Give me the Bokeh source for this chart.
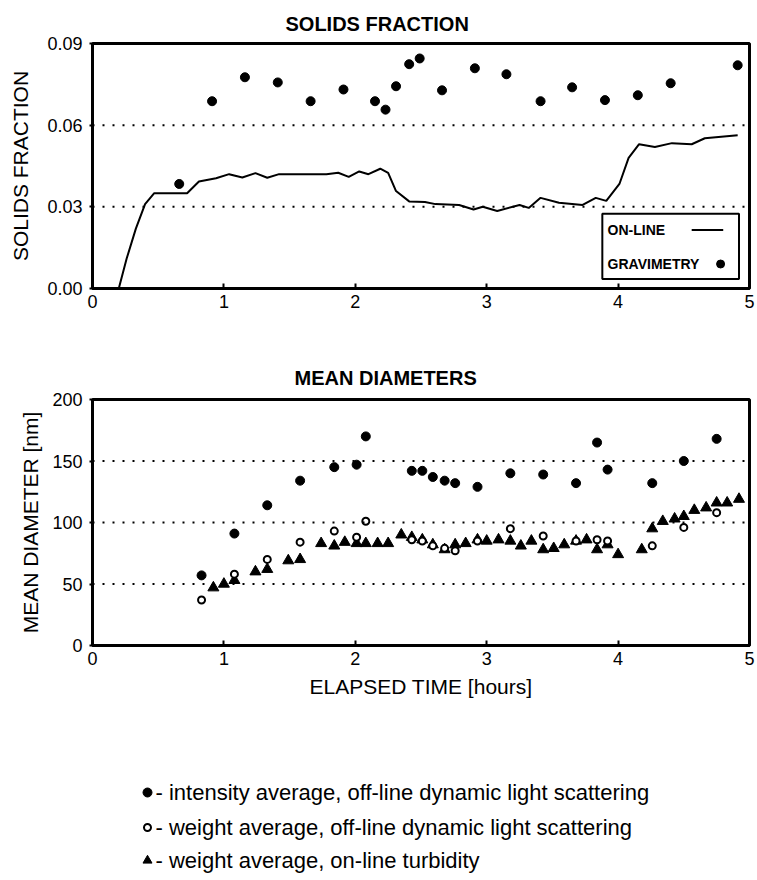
from bokeh.plotting import figure
from bokeh.layouts import column
from bokeh.models import (Range1d, FixedTicker, Span, Title,
                          NumeralTickFormatter)
from bokeh.core.properties import value
from bokeh.embed import file_html
from bokeh.resources import INLINE

FONT = "Liberation Sans"

# ---------------- data: SOLIDS FRACTION ----------------
online_t = [0.00, 0.20, 0.26, 0.33, 0.40, 0.47, 0.72, 0.81, 0.94, 1.04,
            1.14, 1.24, 1.33, 1.42, 1.60, 1.78, 1.87, 1.95, 2.03, 2.10,
            2.19, 2.25, 2.31, 2.41, 2.53, 2.61, 2.79, 2.90, 2.97, 3.08,
            3.25, 3.32, 3.41, 3.55, 3.73, 3.83, 3.91, 4.01, 4.08, 4.16,
            4.28, 4.41, 4.56, 4.66, 4.91]
online_v = [0.000, 0.000, 0.011, 0.022, 0.031, 0.035, 0.035, 0.0393, 0.0405, 0.042,
            0.0408, 0.0424, 0.0407, 0.042, 0.042, 0.042, 0.0425, 0.041, 0.043, 0.042,
            0.044, 0.0425, 0.0358, 0.032, 0.0318, 0.031, 0.0307, 0.029, 0.030, 0.0285,
            0.0307, 0.0296, 0.0333, 0.0315, 0.0307, 0.0333, 0.0322, 0.0384, 0.048, 0.053,
            0.052, 0.0534, 0.053, 0.0552, 0.0563]

grav_t = [0.66, 0.91, 1.16, 1.41, 1.66, 1.91, 2.15, 2.23, 2.31, 2.41,
          2.49, 2.66, 2.91, 3.15, 3.41, 3.65, 3.90, 4.15, 4.40, 4.91]
grav_v = [0.0384, 0.0688, 0.0776, 0.0757, 0.0688, 0.0731, 0.0688, 0.0657, 0.0743, 0.0824,
          0.0845, 0.0728, 0.0809, 0.0787, 0.0688, 0.0739, 0.0692, 0.0710, 0.0754, 0.0820]

top_yticks = [0.00, 0.03, 0.06, 0.09]
top_grid = [0.03, 0.06]
top_legend_labels = ["ON-LINE", "GRAVIMETRY"]

# ---------------- data: MEAN DIAMETERS ----------------
dls_t = [0.83, 1.08, 1.33, 1.58, 1.84, 2.01, 2.08, 2.43, 2.51, 2.59, 2.68,
         2.76, 2.93, 3.18, 3.43, 3.68, 3.84, 3.92, 4.26, 4.50, 4.75]
int_avg = [57, 91, 114, 134, 145, 147, 170, 142, 142, 137, 134,
           132, 129, 140, 139, 132, 165, 143, 132, 150, 168]
wt_avg = [37, 58, 70, 84, 93, 88, 101, 86, 85, 81, 79,
          77, 85, 95, 89, 85, 86, 85, 81, 96, 108]

turb_t = [0.92, 1.00, 1.08, 1.24, 1.33, 1.49, 1.58, 1.74, 1.84, 1.92,
          2.01, 2.08, 2.17, 2.25, 2.35, 2.43, 2.51, 2.59, 2.68, 2.76,
          2.84, 2.93, 3.00, 3.09, 3.18, 3.26, 3.34, 3.43, 3.51, 3.59,
          3.68, 3.76, 3.84, 3.92, 4.00, 4.18, 4.26, 4.34, 4.43, 4.50,
          4.58, 4.67, 4.75, 4.83, 4.92]
turb_v = [47, 50, 53, 60, 62, 69, 70, 83, 81, 84,
          83, 83, 83, 83, 90, 88, 86, 82, 78, 82,
          83, 86, 85, 86, 85, 81, 85, 78, 79, 82,
          85, 86, 78, 82, 74, 78, 95, 101, 103, 105,
          110, 112, 116, 116, 119]

bot_yticks = [0, 50, 100, 150, 200]
bot_grid = [50, 100, 150]
x_ticks = [0, 1, 2, 3, 4, 5]

legend_labels = ["- intensity average, off-line dynamic light scattering",
                 "- weight average, off-line dynamic light scattering",
                 "- weight average, on-line turbidity"]

BL, BR = 92, 8  # frame borders (all plots in the column share them)


def style(p, ylabel, xlabel=None):
    p.outline_line_color = "black"
    p.outline_line_width = 3
    p.xgrid.visible = False
    p.ygrid.visible = False
    p.background_fill_color = "white"
    p.border_fill_color = "white"
    for ax in (p.xaxis[0], p.yaxis[0]):
        ax.axis_line_color = "black"
        ax.axis_line_width = 3
        ax.major_tick_line_color = "black"
        ax.major_tick_line_width = 2
        ax.minor_tick_line_color = None
        ax.major_label_text_font = FONT
        ax.major_label_text_font_size = "18px"
        ax.major_label_text_color = "black"
        ax.axis_label_text_font = FONT
        ax.axis_label_text_font_size = "21px"
        ax.axis_label_text_font_style = "normal"
        ax.axis_label_text_color = "black"
    p.xaxis.ticker = FixedTicker(ticks=x_ticks)
    p.xaxis.major_tick_in = 5
    p.xaxis.major_tick_out = 0
    p.xaxis.major_label_standoff = 6
    p.yaxis.major_tick_in = 0
    p.yaxis.major_tick_out = 3
    p.yaxis.major_label_standoff = 7
    p.yaxis.axis_label = ylabel
    if xlabel:
        p.xaxis.axis_label = xlabel
        p.xaxis.axis_label_standoff = 7


def add_title(p, text, offset, standoff, valign):
    p.add_layout(Title(text=text, align="left", offset=offset,
                       vertical_align=valign, standoff=standoff,
                       text_font=FONT, text_font_size="20px",
                       text_font_style="bold", text_color="black"), "above")


# ---------------- top figure ----------------
p1 = figure(width=757, height=315, output_backend="svg", toolbar_location=None,
            x_range=Range1d(0, 5), y_range=Range1d(0, 0.09),
            min_border_left=BL, min_border_right=BR, min_border_top=43,
            min_border_bottom=27)
style(p1, "SOLIDS FRACTION")
p1.yaxis.ticker = FixedTicker(ticks=top_yticks)
p1.yaxis.formatter = NumeralTickFormatter(format="0.00")
p1.yaxis.axis_label_standoff = 12
add_title(p1, "SOLIDS FRACTION", 193, 14, "top")
for g in top_grid:
    p1.add_layout(Span(location=g, dimension="width", line_color="black",
                       line_width=2, line_dash="2 8"))
p1.line(online_t, online_v, line_color="black", line_width=2)
p1.scatter(grav_t, grav_v, marker="circle", size=9, fill_color="black",
           line_color="black")

# legend box (inside plot, bottom-right)
p1.quad(left=[3.88], right=[4.92], bottom=[0.0035], top=[0.0275],
        fill_color="white", line_color="black", line_width=2)
p1.text(x=[3.92, 3.92], y=[0.0215, 0.0090], text=top_legend_labels,
        text_font=value(FONT), text_font_size="14px", text_font_style="bold",
        text_baseline="middle", text_color="black")
p1.segment(x0=[4.56], y0=[0.0215], x1=[4.80], y1=[0.0215],
           line_color="black", line_width=2)
p1.scatter(x=[4.78], y=[0.0090], marker="circle", size=8, fill_color="black",
           line_color="black")

# ---------------- bottom figure ----------------
p2 = figure(width=757, height=390, output_backend="svg", toolbar_location=None,
            x_range=Range1d(0, 5), y_range=Range1d(0, 200),
            min_border_left=BL, min_border_right=BR, min_border_top=84,
            min_border_bottom=60)
style(p2, "MEAN DIAMETER [nm]", "ELAPSED TIME [hours]")
p2.yaxis.ticker = FixedTicker(ticks=bot_yticks)
p2.yaxis.axis_label_standoff = 7
add_title(p2, "MEAN DIAMETERS", 202, 21, "bottom")
for g in bot_grid:
    p2.add_layout(Span(location=g, dimension="width", line_color="black",
                       line_width=2, line_dash="2 8"))
p2.scatter(turb_t, turb_v, marker="triangle", size=11, fill_color="black",
           line_color="black")
p2.scatter(dls_t, wt_avg, marker="circle", size=7, fill_color="white",
           line_color="black", line_width=2)
p2.scatter(dls_t, int_avg, marker="circle", size=9, fill_color="black",
           line_color="black")

# ---------------- legend figure (page pixel coordinates) ----------------
p3 = figure(width=757, height=175, output_backend="svg", toolbar_location=None,
            x_range=Range1d(BL, 757 - BR), y_range=Range1d(175, 0),
            min_border_left=BL, min_border_right=BR, min_border_top=0,
            min_border_bottom=0, x_axis_location=None, y_axis_location=None)
p3.grid.visible = False
p3.outline_line_color = None
key_y = [87, 122, 155]
p3.scatter(x=[147], y=[key_y[0]], marker="circle", size=9, fill_color="black",
           line_color="black")
p3.scatter(x=[147], y=[key_y[1]], marker="circle", size=7, fill_color="white",
           line_color="black", line_width=2)
p3.scatter(x=[147], y=[key_y[2]], marker="triangle", size=9, fill_color="black",
           line_color="black")
p3.text(x=[155, 155, 155], y=key_y, text=legend_labels,
        text_font=value(FONT), text_font_size="22px", text_baseline="middle",
        text_color="black")

layout = column(p1, p2, p3, spacing=0)
open("out.html", "w").write(file_html(layout, INLINE))
